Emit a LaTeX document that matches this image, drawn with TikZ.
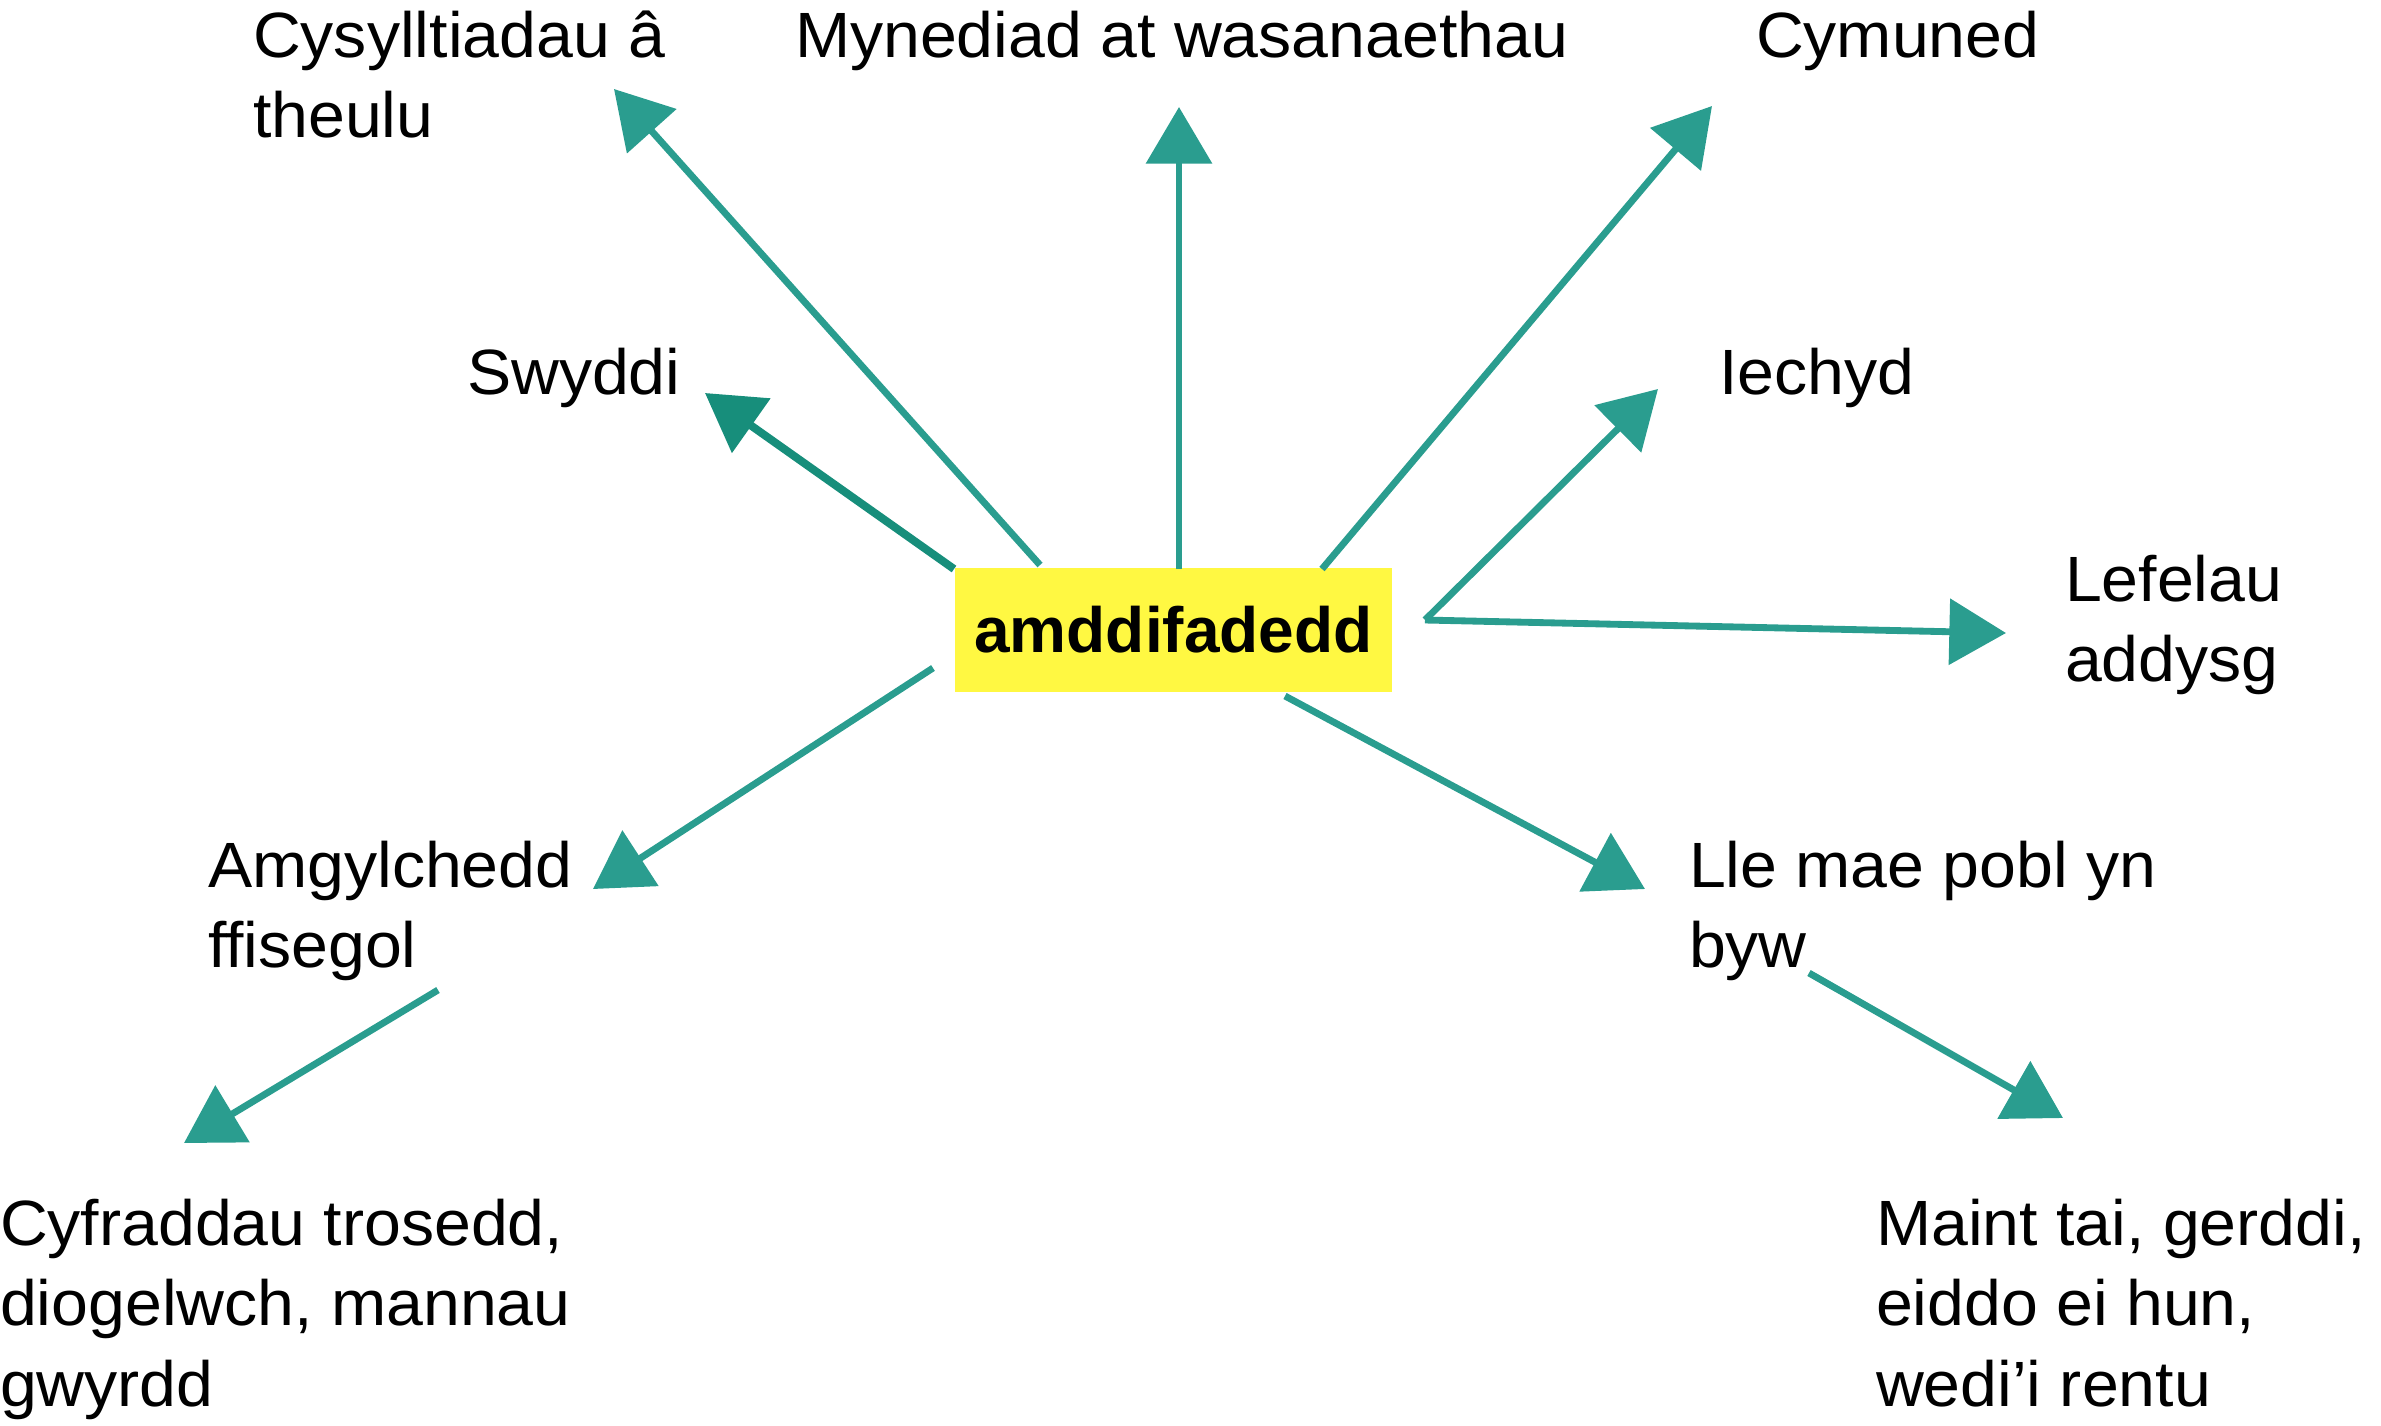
\documentclass[tikz,border=0pt]{standalone}
\usepackage{fontspec}
\setmainfont[FakeStretch=1.035]{Liberation Sans}
\newfontfamily\centrefont{Liberation Sans}
\usetikzlibrary{arrows.meta}
\definecolor{teal1}{HTML}{2A9D8F}
\definecolor{teal2}{HTML}{178E7B}
\definecolor{boxyellow}{HTML}{FFF842}
\begin{document}
\begin{tikzpicture}[x=0.3pt,y=-0.3pt,
  lbl/.style={anchor=base west, inner sep=0pt, outer sep=0pt, font=\fontsize{19.2}{24.2}\selectfont},
  conn/.style={draw=teal1, line width=2.05pt, -{Triangle[length=17pt,width=19.5pt]}},
  connd/.style={draw=teal2, line width=2.4pt, -{Triangle[length=17pt,width=19.5pt]}, teal2},
  centre/.style={fill=boxyellow, inner sep=0pt, minimum width=437*0.3pt, minimum height=124*0.3pt, font=\centrefont\fontsize{19.2}{24}\selectfont\bfseries}]
\useasboundingbox (0,0) rectangle (2381,1425);
% centre
\node[centre] (box) at (1173.5,630) {amddifadedd};
% labels
\node[lbl] (cys) at (253,57) {\begin{tabular}[t]{@{}l@{}}Cysylltiadau â\\theulu\end{tabular}};
\node[lbl] (myn) at (795,57) {Mynediad at wasanaethau};
\node[lbl] (cym) at (1756,57) {Cymuned};
\node[lbl] (swy) at (467,394) {Swyddi};
\node[lbl] (iech) at (1719,394) {Iechyd};
\node[lbl] (lef) at (2065,601) {\begin{tabular}[t]{@{}l@{}}Lefelau\\addysg\end{tabular}};
\node[lbl] (amg) at (208,887) {\begin{tabular}[t]{@{}l@{}}Amgylchedd\\ffisegol\end{tabular}};
\node[lbl] (lle) at (1689,887) {\begin{tabular}[t]{@{}l@{}}Lle mae pobl yn\\byw\end{tabular}};
\node[lbl] (cyf) at (0,1245) {\begin{tabular}[t]{@{}l@{}}Cyfraddau trosedd,\\diogelwch, mannau\\gwyrdd\end{tabular}};
\node[lbl] (maint) at (1876,1245) {\begin{tabular}[t]{@{}l@{}}Maint tai, gerddi,\\eiddo ei hun,\\wedi’i rentu\end{tabular}};
% connector ends
\coordinate (tcys) at (1040,565);  \coordinate (hcys) at (614,89);
\coordinate (tmyn) at (1179,569);  \coordinate (hmyn) at (1179,107);
\coordinate (tcym) at (1322,569);  \coordinate (hcym) at (1712,106);
\coordinate (tswy) at (954,569);   \coordinate (hswy) at (705,393);
\coordinate (tr) at (1425,620);
\coordinate (hiech) at (1658,389);
\coordinate (hlef) at (2006,633);
\coordinate (tamg) at (933,668);   \coordinate (hamg) at (593,889);
\coordinate (tlle) at (1285,696);  \coordinate (hlle) at (1645,889);
\coordinate (tamg2) at (438,990);  \coordinate (hcyf) at (184,1143);
\coordinate (tlle2) at (1809,973); \coordinate (hmaint) at (2063,1118);
% connectors
\draw[conn] (tcys) -- (hcys);
\draw[conn] (tmyn) -- (hmyn);
\draw[conn] (tcym) -- (hcym);
\draw[connd] (tswy) -- (hswy);
\draw[conn] (tr) -- (hiech);
\draw[conn] (tr) -- (hlef);
\draw[conn] (tamg) -- (hamg);
\draw[conn] (tlle) -- (hlle);
\draw[conn] (tamg2) -- (hcyf);
\draw[conn] (tlle2) -- (hmaint);
\end{tikzpicture}
\end{document}
